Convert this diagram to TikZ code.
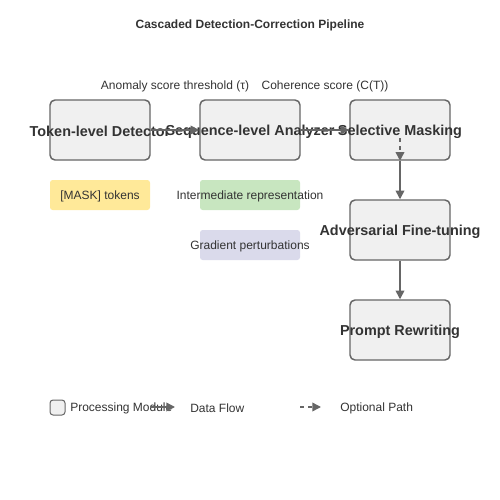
\documentclass[tikz,border=0pt]{standalone}
\usepackage{fontspec}
\setmainfont{Liberation Sans}
\usetikzlibrary{arrows.meta}
\definecolor{boxfill}{HTML}{F0F0F0}
\definecolor{boxline}{HTML}{666666}
\definecolor{txt}{HTML}{333333}
\definecolor{ymask}{HTML}{FFE999}
\definecolor{ginter}{HTML}{C8E6C0}
\definecolor{pgrad}{HTML}{DADAEB}
\begin{document}
\begin{tikzpicture}[x=0.75pt,y=-0.75pt,
  modtext/.style={text=txt,inner sep=0pt,yshift=-1.3pt,font=\fontsize{10.8pt}{13pt}\selectfont\bfseries},
  module/.style={draw=boxline,fill=boxfill,line width=1.1pt,rounded corners=3.75pt,
    minimum width=75pt,minimum height=45pt,inner sep=0pt,label={[modtext]center:#1}},
  tagtext/.style={text=txt,inner sep=0pt,yshift=-1pt,font=\fontsize{9pt}{11pt}\selectfont},
  tag/.style={rounded corners=2pt,minimum width=75pt,minimum height=22.5pt,inner sep=0pt,
    label={[tagtext]center:#1}},
  lbl/.style={text=txt,inner sep=0pt,font=\fontsize{9pt}{11pt}\selectfont},
  flow/.style={draw=boxline,line width=1.1pt,-{Triangle[length=6.5pt,width=6.5pt]}},
  optflow/.style={flow,dash pattern=on 3pt off 3pt}]
\useasboundingbox (0,0) rectangle (500,500);
\node[lbl,font=\fontsize{9pt}{11pt}\selectfont\bfseries] (title) at (250,25.5) {Cascaded Detection-Correction Pipeline};
\node[lbl] (l1) at (175,86.5) {Anomaly score threshold (τ)};
\node[lbl] (l2) at (325,86.5) {Coherence score (C(T))};
\node[module={Token-level Detector}] (tok) at (100,130) {};
\node[module={Sequence-level Analyzer}] (seq) at (250,130) {};
\node[module={Selective Masking}] (sm) at (400,130) {};
\node[module={Adversarial Fine-tuning}] (adv) at (400,230) {};
\node[module={Prompt Rewriting}] (pr) at (400,330) {};
\node[tag={[MASK] tokens},fill=ymask] (mask) at (100,195) {};
\node[tag={Intermediate representation},fill=ginter] (inter) at (250,195) {};
\node[tag={Gradient perturbations},fill=pgrad] (grad) at (250,245) {};
\draw[flow] (tok.east) -- (seq.west);
\draw[flow] (seq.east) -- (sm.west);
\coordinate (smd) at (400,138);
\draw[optflow] (smd) -- (sm.south);
\draw[flow] (sm.south) -- (adv.north);
\draw[flow] (adv.south) -- (pr.north);
% legend
\node[draw=boxline,fill=boxfill,line width=0.75pt,rounded corners=2.25pt,minimum width=11.25pt,minimum height=11.25pt,inner sep=0pt] (lgbox) at (57.5,407.5) {};
\node[lbl,anchor=west] (lgt1) at (70,408.5) {Processing Module};
\coordinate (fa) at (150,407);
\coordinate (fb) at (175,407);
\draw[flow] (fa) -- (fb);
\node[lbl,anchor=west] (lgt2) at (190,408.5) {Data Flow};
\coordinate (oa) at (300,407);
\coordinate (ob) at (321,407);
\draw[optflow] (oa) -- (ob);
\node[lbl,anchor=west] (lgt3) at (340,408.5) {Optional Path};
\end{tikzpicture}
\end{document}
